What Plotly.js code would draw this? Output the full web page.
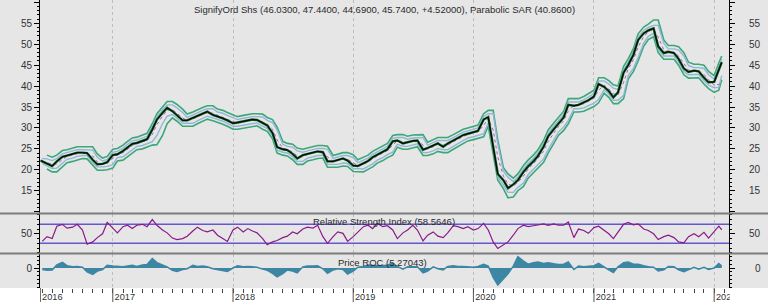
<!DOCTYPE html>
<html><head><meta charset="utf-8">
<script src="https://cdn.plot.ly/plotly-3.0.1.min.js"></script>
<style>html,body{margin:0;padding:0;background:#fff;}#chart{width:768px;height:302px;}</style>
</head><body><div id="chart"></div>
<script>
const DATES = [
'2016-05-27','2016-06-01','2016-06-15','2016-07-01','2016-07-15','2016-08-01','2016-08-15','2016-09-01','2016-09-15','2016-10-01','2016-10-15','2016-11-01','2016-11-15','2016-12-01','2016-12-15',
'2017-01-01','2017-01-15','2017-02-01','2017-02-15','2017-03-01','2017-03-15','2017-04-01','2017-04-15','2017-05-01','2017-05-15','2017-06-01','2017-06-15','2017-07-01','2017-07-15','2017-08-01','2017-08-15','2017-09-01','2017-09-15','2017-10-01','2017-10-15','2017-11-01','2017-11-15','2017-12-01','2017-12-15',
'2018-01-01','2018-01-15','2018-02-01','2018-02-15','2018-03-01','2018-03-15','2018-04-01','2018-04-15','2018-05-01','2018-05-15','2018-06-01','2018-06-15','2018-07-01','2018-07-15','2018-08-01','2018-08-15','2018-09-01','2018-09-15','2018-10-01','2018-10-15','2018-11-01','2018-11-15','2018-12-01','2018-12-15',
'2019-01-01','2019-01-15','2019-02-01','2019-02-15','2019-03-01','2019-03-15','2019-04-01','2019-04-15','2019-05-01','2019-05-15','2019-06-01','2019-06-15','2019-07-01','2019-07-15','2019-08-01','2019-08-15','2019-09-01','2019-09-15','2019-10-01','2019-10-15','2019-11-01','2019-11-15','2019-12-01','2019-12-15',
'2020-01-01','2020-01-15','2020-02-01','2020-02-15','2020-03-01','2020-03-15','2020-04-01','2020-04-15','2020-05-01','2020-05-15','2020-06-01','2020-06-15','2020-07-01','2020-07-15','2020-08-01','2020-08-15','2020-09-01','2020-09-15','2020-10-01','2020-10-15','2020-11-01','2020-11-15','2020-12-01','2020-12-15',
'2021-01-01','2021-01-15','2021-02-01','2021-02-15','2021-03-01','2021-03-15','2021-04-01','2021-04-15','2021-05-01','2021-05-15','2021-06-01','2021-06-15','2021-07-01','2021-07-15','2021-08-01','2021-08-15','2021-09-01','2021-09-15','2021-10-01','2021-10-15','2021-11-01','2021-11-15','2021-12-01','2021-12-15',
'2022-01-01','2022-01-15','2022-01-24'];

const CLOSE = [
22.2,22.0,21.6,20.9,22.0,23.1,23.4,23.8,24.1,24.1,24.0,22.4,21.3,21.4,21.8,
23.5,23.7,24.5,25.4,26.2,26.4,26.8,27.3,29.6,32.0,33.6,34.8,34.0,33.0,31.8,31.8,32.4,33.0,33.5,33.9,33.1,32.8,32.3,31.8,
31.1,31.3,31.6,31.8,32.0,31.9,31.1,30.6,28.8,25.4,24.9,24.7,23.8,22.7,23.5,23.8,24.1,24.4,24.2,22.0,22.0,22.3,22.7,22.2,
21.0,20.9,21.5,22.1,23.0,23.6,24.3,24.9,26.8,27.0,26.3,26.6,26.9,27.0,24.8,25.2,25.8,26.3,25.5,26.3,27.0,27.6,28.3,28.6,
28.9,29.3,32.0,32.6,25.5,19.0,17.5,15.6,16.5,17.5,19.5,20.8,22.0,23.3,25.5,28.0,29.7,30.9,32.5,35.5,35.3,35.5,36.0,36.6,
37.5,40.5,39.8,38.8,37.3,38.5,43.2,45.0,47.5,51.0,52.6,53.3,53.8,49.5,47.9,48.2,47.9,46.5,44.2,43.4,43.7,43.5,42.0,40.9,
41.0,44.0,45.7];

const GREEN_UP = [
null,null,23.5,23.0,23.5,24.6,24.8,25.2,25.5,25.5,25.5,25.5,23.8,22.8,23.2,
24.9,25.1,25.9,26.8,27.6,27.8,28.2,28.7,31.0,33.4,35.0,36.3,36.3,35.6,34.5,33.3,33.8,34.4,34.9,35.3,35.3,34.5,34.2,33.7,
33.2,32.7,33.0,33.2,33.4,33.4,33.3,32.5,32.0,30.2,26.8,26.3,26.1,25.2,24.9,25.2,25.5,25.8,25.8,25.6,23.4,23.7,24.1,24.1,
23.6,22.4,22.9,23.5,24.4,25.0,25.7,26.3,28.2,28.4,28.4,28.0,28.3,28.4,28.4,26.6,27.2,27.7,27.7,27.7,28.4,29.0,29.7,30.0,
30.3,30.7,33.4,34.2,34.2,27.0,20.5,19.0,18.0,19.0,21.0,22.3,23.5,24.8,27.0,29.5,31.2,32.4,34.0,37.0,37.0,37.0,37.5,38.1,
39.0,42.0,42.0,41.3,40.3,40.0,44.7,46.5,49.0,52.5,54.1,54.8,55.8,55.8,51.0,49.7,49.7,49.4,48.0,45.7,45.2,45.2,45.0,43.5,
42.5,45.5,47.2];

const GREEN_LO = [
null,null,20.2,19.5,19.5,20.6,21.7,22.0,22.4,22.7,22.6,21.0,19.9,19.9,20.0,
20.4,22.1,22.3,23.1,24.0,24.8,25.0,25.4,25.9,26.0,28.2,31.0,32.4,31.6,30.4,30.4,30.4,31.0,31.6,32.1,31.7,31.4,30.9,30.4,
29.7,29.7,29.9,30.2,30.4,30.5,29.7,29.2,27.4,24.0,23.5,23.3,22.4,21.3,21.3,22.1,22.4,22.7,22.8,20.6,20.6,20.6,20.9,20.8,
19.6,19.5,19.5,20.1,20.7,21.6,22.2,22.9,23.5,25.4,24.9,24.9,25.2,25.5,23.4,23.4,23.8,24.4,24.1,24.1,24.9,25.6,26.2,26.9,
27.2,27.5,27.9,30.4,24.0,17.5,15.5,13.3,13.5,15.0,16.0,18.0,19.3,20.5,21.8,24.0,26.5,28.2,29.4,31.0,33.8,33.8,34.0,34.5,
35.1,36.0,38.3,37.3,35.8,35.8,37.0,41.7,43.5,46.0,49.5,51.1,51.8,48.0,46.4,46.4,46.4,45.0,42.7,41.9,41.9,42.0,40.5,39.4,
38.5,39.0,41.5];

const BLUE_UP = [
null,22.7,22.6,22.2,22.7,23.8,24.1,24.5,24.8,24.8,24.8,24.7,23.0,22.1,22.5,
24.2,24.4,25.2,26.1,26.9,27.1,27.5,28.0,30.3,32.7,34.3,35.5,35.5,34.8,33.7,32.5,33.1,33.7,34.2,34.6,34.6,33.8,33.5,33.0,
32.5,32.0,32.3,32.5,32.7,32.7,32.6,31.8,31.3,29.5,26.1,25.6,25.4,24.5,24.2,24.5,24.8,25.1,25.1,24.9,22.7,23.0,23.4,23.4,
22.9,21.7,22.2,22.8,23.7,24.3,25.0,25.6,27.5,27.7,27.7,27.3,27.6,27.7,27.7,25.9,26.5,27.0,27.0,27.0,27.7,28.3,29.0,29.3,
29.6,30.0,32.7,33.4,33.4,26.2,19.7,18.2,17.2,18.2,20.2,21.5,22.7,24.0,26.2,28.7,30.4,31.6,33.2,36.2,36.2,36.2,36.7,37.3,
38.2,41.2,41.2,40.5,39.5,39.2,43.9,45.7,48.2,51.7,53.3,54.0,54.5,54.5,50.2,48.9,48.9,48.6,47.2,44.9,44.4,44.4,44.2,42.7,
41.7,44.7,46.4];

const BLUE_LO = [
null,21.5,21.0,20.3,20.4,21.5,22.5,22.8,23.2,23.4,23.4,21.8,20.7,20.7,20.8,
21.2,22.9,23.1,23.9,24.8,25.6,25.8,26.2,26.7,28.2,31.0,32.8,33.2,32.3,31.1,31.1,31.1,31.7,32.3,32.8,32.4,32.1,31.6,31.1,
30.4,30.4,30.6,30.9,31.1,31.2,30.4,29.9,28.1,24.7,24.2,24.0,23.1,22.0,22.0,22.8,23.1,23.4,23.5,21.3,21.3,21.3,21.6,21.5,
20.3,20.2,20.2,20.8,21.4,22.3,22.9,23.6,24.2,26.1,25.6,25.6,25.9,26.2,24.1,24.1,24.5,25.1,24.8,24.8,25.6,26.3,26.9,27.6,
27.9,28.2,28.6,31.2,24.8,18.3,16.4,14.6,14.6,15.8,16.8,18.8,20.1,21.3,22.6,24.8,27.3,29.0,30.2,31.8,34.6,34.6,34.8,35.3,
35.9,36.8,39.1,38.1,36.6,36.6,37.8,42.5,44.3,46.8,50.3,51.9,52.6,48.8,47.2,47.2,47.2,45.8,43.5,42.7,42.7,42.8,41.3,40.2,
39.6,39.7,42.5];

const SAR_LINE = [
null,22.1,21.8,21.3,21.4,22.5,23.2,23.6,23.9,24.1,24.0,23.3,21.9,21.4,21.6,
22.6,23.6,24.1,24.9,25.8,26.3,26.6,27.0,28.4,30.8,32.8,34.2,34.4,33.5,32.4,31.8,32.1,32.7,33.3,33.7,33.5,33.0,32.6,32.1,
31.5,31.2,31.5,31.7,31.9,32.0,31.5,30.9,29.7,27.1,25.2,24.8,24.3,23.3,23.1,23.7,24.0,24.3,24.3,23.1,22.0,22.2,22.5,22.5,
21.6,21.0,21.2,21.8,22.6,23.3,24.0,24.6,25.9,26.9,26.7,26.5,26.8,27.0,25.9,25.0,25.5,26.1,25.9,25.9,26.7,27.3,28.0,28.5,
28.8,29.1,30.6,32.3,29.5,23.0,18.5,16.6,16.1,17.0,18.5,20.2,21.4,22.7,24.4,26.8,28.9,30.3,31.7,34.0,35.4,35.4,35.8,36.3,
37.1,39.0,40.2,39.3,38.1,37.9,40.9,44.1,46.3,49.3,51.8,53.0,53.6,51.7,48.7,48.1,48.1,47.2,45.4,43.8,43.6,43.6,42.8,41.5,
40.2,40.4,40.86];

const RSI = [
null,34,44,40,66,70,62,64,70,58,28,33,42,50,74,
62,52,65,68,61,68,70,65,80,68,58,52,41,38,40,45,56,64,57,54,58,47,40,34,
58,64,54,61,56,52,40,27,33,36,42,45,54,50,60,64,62,68,44,30,44,54,51,34,
44,54,65,68,61,72,65,67,58,40,52,58,68,58,35,47,54,45,42,52,67,65,61,65,
58,61,72,58,33,19,26,33,47,61,68,65,67,69,71,68,71,68,68,75,42,60,57,51,
63,66,57,50,40,53,70,74,69,71,60,57,50,38,44,47,42,33,31,44,50,44,53,41,
55,66,58.5646];

const ROC = [
null,-4,-6,-5,8,15,6,3,4,2,-10,-17,-8,-4,7,
5,4,3,5,7,4,8,9,25,14,9,3,-6,-9,-4,-2,7,4,5,3,-2,-4,-7,-9,
0,6,3,4,3,2,-3,-6,-14,-23,-15,-5,-8,-13,3,5,5,6,-2,-14,-5,-2,-4,-16,
-8,2,4,8,7,7,6,8,12,4,-3,3,4,3,-13,-8,3,-2,-5,4,6,4,4,3,
2,4,10,5,-25,-45,-30,-15,5,30,18,10,14,16,12,14,11,9,10,16,-4,5,3,4,
6,12,2,-5,-12,3,14,16,10,10,6,3,2,-8,-5,4,3,-5,-10,-4,2,-3,2,-4,
0,12,5.27043];

const RSI_LEVELS = [70, 30];
const PRICE_TICKS = [10,15,20,25,30,35,40,45,50,55,60];
const PRICE_LABELS = ['','15','20','25','30','35','40','45','50','55',''];
const YEAR_TICKS = ['2016-05-26','2017-01-01','2018-01-01','2019-01-01','2020-01-01','2021-01-01','2022-01-01'];
const YEAR_LABELS = ['2016','2017','2018','2019','2020','2021','2022'];
const TITLE_MAIN = 'SignifyOrd Shs (46.0300, 47.4400, 44.6900, 45.7400, +4.52000), Parabolic SAR (40.8600)';
const TITLE_RSI = 'Relative Strength Index (58.5646)';
const TITLE_ROC = 'Price ROC (5.27043)';

const FONT = 'Liberation Sans, Arial, sans-serif';
const BG = '#e6e6e6';

const traces = [
  {x:DATES, y:GREEN_UP, type:'scatter', mode:'lines', line:{color:'#3aa877', width:1.6}, xaxis:'x', yaxis:'y', hoverinfo:'skip'},
  {x:DATES, y:GREEN_LO, type:'scatter', mode:'lines', line:{color:'#3aa877', width:1.6}, xaxis:'x', yaxis:'y', hoverinfo:'skip'},
  {x:DATES, y:BLUE_UP, type:'scatter', mode:'lines', line:{color:'#92b6d8', width:1.4}, xaxis:'x', yaxis:'y', hoverinfo:'skip'},
  {x:DATES, y:BLUE_LO, type:'scatter', mode:'lines', line:{color:'#92b6d8', width:1.4}, xaxis:'x', yaxis:'y', hoverinfo:'skip'},
  {x:DATES, y:SAR_LINE, type:'scatter', mode:'lines', line:{color:'#a860b8', width:1, dash:'dot'}, xaxis:'x', yaxis:'y', hoverinfo:'skip'},
  {x:DATES, y:CLOSE, type:'scatter', mode:'lines', line:{color:'#0e5a22', width:2.4}, xaxis:'x', yaxis:'y', hoverinfo:'skip'},
  {x:DATES, y:CLOSE, type:'scatter', mode:'lines', line:{color:'#000000', width:1}, xaxis:'x', yaxis:'y', hoverinfo:'skip'},
  {x:DATES, y:RSI, type:'scatter', mode:'lines', line:{color:'#8a1a8a', width:1.2}, xaxis:'x', yaxis:'y2', hoverinfo:'skip'},
  {x:DATES, y:ROC, type:'scatter', mode:'lines', fill:'tozeroy', fillcolor:'#3d86a4', line:{color:'#3d86a4', width:1.5}, xaxis:'x', yaxis:'y3', hoverinfo:'skip'}
];

const yCommon = {
  anchor:'x', showline:true, linecolor:'#000', linewidth:1, mirror:'ticks',
  ticks:'outside', ticklen:5, tickcolor:'#000', tickwidth:1,
  showgrid:false, zeroline:false, fixedrange:true,
  tickfont:{family:FONT, size:10, color:'#333'}
};

const H = 288; // plot height in px (302 - bottom margin)
const layout = {
  width:768, height:302,
  margin:{l:40, r:39, t:0, b:14, pad:0},
  paper_bgcolor:BG, plot_bgcolor:BG,
  showlegend:false,
  font:{family:FONT, size:10, color:'#333'},
  xaxis:{
    type:'date', range:['2016-05-25','2022-02-15'], domain:[0,1], anchor:'y3',
    tickmode:'array', tickvals:YEAR_TICKS, ticktext:YEAR_LABELS,
    ticks:'outside', ticklen:0, tickcolor:'#444', ticklabelshift:12, ticklabelstandoff:0,
    tickfont:{family:FONT, size:9.2, color:'#333'},
    minor:{tickmode:'linear', tick0:'2016-01-01', dtick:'M1', ticks:'outside', ticklen:4, tickcolor:'#444', showgrid:false},
    showgrid:true, gridcolor:'#bdbdbd', griddash:'dot', gridwidth:1,
    showline:false, zeroline:false, fixedrange:true
  },
  yaxis:Object.assign({}, yCommon, {
    domain:[(H-213)/H, 1], range:[9.67, 60.57],
    tickmode:'array', tickvals:PRICE_TICKS, ticktext:PRICE_LABELS,
    minor:{tickmode:'linear', tick0:0, dtick:1, ticks:'outside', ticklen:2, tickcolor:'#000'}
  }),
  yaxis2:Object.assign({}, yCommon, {
    domain:[(H-254)/H, (H-214)/H], range:[7.5, 91.7],
    tickmode:'array', tickvals:[50], ticktext:['50'],
    minor:{tickmode:'linear', tick0:0, dtick:10, ticks:'outside', ticklen:2, tickcolor:'#000'}
  }),
  yaxis3:Object.assign({}, yCommon, {
    domain:[0, (H-254)/H], range:[-52.6, 36.8],
    tickmode:'array', tickvals:[0], ticktext:['0'],
    minor:{tickmode:'linear', tick0:0, dtick:10, ticks:'outside', ticklen:2, tickcolor:'#000'}
  }),
  shapes:[],
  annotations:[]
};

// white strip under the panels
layout.shapes.push({type:'rect', xref:'paper', yref:'paper', x0:-0.07, x1:1.07, y0:-14/H, y1:0, fillcolor:'#ffffff', line:{width:0}, layer:'below'});
// panel separators
[213.5, 253.5].forEach(function(py){
  layout.shapes.push({type:'line', xref:'paper', yref:'paper', x0:-40/689, x1:1+39/689, y0:(H-py)/H, y1:(H-py)/H, line:{color:'#7d7d7d', width:2}, layer:'above'});
});
// RSI reference levels
RSI_LEVELS.forEach(function(v){
  layout.shapes.push({type:'line', xref:'paper', yref:'y2', x0:0, x1:1, y0:v, y1:v, line:{color:'#6657cf', width:1.4}, layer:'below'});
});
// year separators in the date strip
YEAR_TICKS.forEach(function(d){
  layout.shapes.push({type:'line', xref:'x', yref:'paper', x0:d, x1:d, y0:0, y1:-14/H, line:{color:'#555', width:1}, layer:'above'});
});
// clip the last year label at the right axis
layout.shapes.push({type:'rect', xref:'paper', yref:'paper', x0:1.001, x1:1.07, y0:-14/H, y1:-0.002, fillcolor:'#ffffff', line:{width:0}, layer:'above'});

// titles
const titleFont = {family:FONT, size:9.5, color:'#2a2a2a'};
layout.annotations.push({text:TITLE_MAIN, xref:'paper', yref:'paper', x:0.4993, y:(H-9)/H, xanchor:'center', yanchor:'middle', showarrow:false, font:titleFont});
layout.annotations.push({text:TITLE_RSI, xref:'paper', yref:'paper', x:0.4993, y:(H-221)/H, xanchor:'center', yanchor:'middle', showarrow:false, font:titleFont});
layout.annotations.push({text:TITLE_ROC, xref:'paper', yref:'paper', x:0.4978, y:(H-262)/H, xanchor:'center', yanchor:'middle', showarrow:false, font:titleFont});

// right-side tick labels
const rx = (763-40)/689;
PRICE_TICKS.forEach(function(v, i){
  if (PRICE_LABELS[i]) layout.annotations.push({text:PRICE_LABELS[i], xref:'paper', yref:'y', x:rx, y:v, xanchor:'right', yanchor:'middle', showarrow:false, font:{family:FONT, size:10, color:'#333'}});
});
layout.annotations.push({text:'50', xref:'paper', yref:'y2', x:rx, y:50, xanchor:'right', yanchor:'middle', showarrow:false, font:{family:FONT, size:10, color:'#333'}});
layout.annotations.push({text:'0', xref:'paper', yref:'y3', x:rx, y:0, xanchor:'right', yanchor:'middle', showarrow:false, font:{family:FONT, size:10, color:'#333'}});

Plotly.newPlot('chart', traces, layout, {displayModeBar:false, staticPlot:true});
</script>
</body></html>
